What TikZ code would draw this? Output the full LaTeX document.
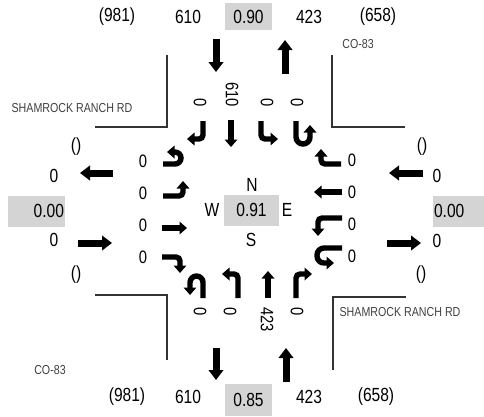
\documentclass[tikz,border=0pt]{standalone}
\usepackage{fontspec}
\setmainfont{Liberation Sans}[FakeStretch=0.82]
\usetikzlibrary{arrows.meta}
\tikzset{
  volbox/.style={fill=black!17,inner sep=0pt,minimum height=31pt},
  lanearrow/.style={line width=5.4pt,rounded corners=4pt,
    -{Triangle[length=7.5pt,width=12.5pt]}},
  bigarrow/.style={line width=7pt,-{Triangle[length=10pt,width=14.5pt]}},
  curb/.style={line width=1.6pt,draw=black!80}}

\begin{document}
\begin{tikzpicture}[x=1pt,y=-1pt,
  lbl/.style={font=\fontsize{19}{21}\selectfont,inner sep=0pt},
  lanelbl/.style={font=\fontsize{18}{20}\selectfont,inner sep=0pt},
  street/.style={font=\fontsize{13}{15}\selectfont,text=black!75,
    inner sep=0pt}]
  \useasboundingbox (0,0) rectangle (484,416);

  % approach and departure volumes
  \node[lbl] (nin) at (117,17) {(981)};
  \node[lbl] (nsb) at (188,17) {610};
  \node[lbl,volbox,minimum height=27pt,minimum width=47pt] (nphf)
    at (248.5,16.5) {0.90};
  \node[lbl] (nnb) at (309,17) {423};
  \node[lbl] (nout) at (378,17) {(658)};

  \node[lbl] (sin) at (127,397) {(981)};
  \node[lbl] (ssb) at (188,397) {610};
  \node[lbl,volbox,minimum height=32pt,minimum width=47pt] (sphf)
    at (248.5,400) {0.85};
  \node[lbl] (snb) at (309,397) {423};
  \node[lbl] (sout) at (376,397) {(658)};

  \node[lbl] (wtop) at (76,147) {()};
  \node[lbl] (wwb) at (54,176) {0};
  \node[lbl,volbox,text width=55pt,align=right,inner xsep=1pt] (wphf)
    at (36.5,211) {0.00};
  \node[lbl] (web) at (54,240) {0};
  \node[lbl] (wbot) at (76,275) {()};

  \node[lbl] (etop) at (422,147) {()};
  \node[lbl] (ewb) at (437,176) {0};
  \node[lbl,volbox,text width=49pt,align=left,inner xsep=1pt] (ephf)
    at (458.5,211) {0.00};
  \node[lbl] (eeb) at (437,241) {0};
  \node[lbl] (ebot) at (421,275) {()};

  % intersection centre
  \node[lbl] (cn) at (252,185) {N};
  \node[lbl] (cw) at (212,210) {W};
  \node[lbl,volbox,minimum width=55pt] (cphf) at (251.5,210) {0.91};
  \node[lbl] (ce) at (287,210) {E};
  \node[lbl] (cs) at (251,240) {S};

  % street names
  \node[street] (stnw) at (72,108) {SHAMROCK RANCH RD};
  \node[street] (stse) at (400,312) {SHAMROCK RANCH RD};
  \node[street] (coN) at (358,44) {CO-83};
  \node[street] (coS) at (50,370) {CO-83};

  % curbs
  \draw[curb] (167,55) -- (167,127) -- (95,127);
  \draw[curb] (332,55) -- (332,127) -- (405,127);
  \draw[curb] (95,295) -- (167,295) -- (167,360);
  \draw[curb] (406,297) -- (333,297) -- (333,370);

  % leg arrows
  \draw[bigarrow] (216,39) -- (216,72);
  \draw[bigarrow] (285,74) -- (285,40);
  \draw[bigarrow] (216,348) -- (216,380);
  \draw[bigarrow] (286,382) -- (286,348);
  \draw[bigarrow] (113,173) -- (80,173);
  \draw[bigarrow] (78,243) -- (112,243);
  \draw[bigarrow] (423,173) -- (389,173);
  \draw[bigarrow] (387,243) -- (421,243);

  % lane volumes
  \node[lanelbl,rotate=-90,anchor=east] (sbr) at (200,107) {0};
  \node[lanelbl,rotate=-90,anchor=east] (sbt) at (232,107) {610};
  \node[lanelbl,rotate=-90,anchor=east] (sbl) at (267,107) {0};
  \node[lanelbl,rotate=-90,anchor=east] (sbu) at (297,107) {0};
  \node[lanelbl,rotate=-90,anchor=west] (nbu) at (200,307) {0};
  \node[lanelbl,rotate=-90,anchor=west] (nbl) at (230,307) {0};
  \node[lanelbl,rotate=-90,anchor=west] (nbt) at (267,307) {423};
  \node[lanelbl,rotate=-90,anchor=west] (nbr) at (297,307) {0};
  \node[lanelbl] (ebu) at (143,161) {0};
  \node[lanelbl] (ebl) at (143,193) {0};
  \node[lanelbl] (ebt) at (143,225) {0};
  \node[lanelbl] (ebr) at (143,257) {0};
  \node[lanelbl] (wbr) at (352,160) {0};
  \node[lanelbl] (wbt) at (352,192) {0};
  \node[lanelbl] (wbl) at (352,224) {0};
  \node[lanelbl] (wbu) at (352,256) {0};

  % lane arrows
  \draw[lanearrow] (203,121) -- (203,139) -- (187,139);
  \draw[lanearrow] (231,120) -- (231,147);
  \draw[lanearrow] (261,121) -- (261,139) -- (278,139);
  \draw[lanearrow,rounded corners=7pt] (296,121) -- (296,144)
    -- (310,144) -- (310,125);

  \draw[lanearrow,rounded corners=6.5pt] (203,298) -- (203,276)
    -- (190,276) -- (190,295);
  \draw[lanearrow] (238,298) -- (238,274) -- (222,274);
  \draw[lanearrow] (268,298) -- (268,271);
  \draw[lanearrow] (296,298) -- (296,274) -- (312,274);

  \draw[lanearrow,rounded corners=6pt] (163,164) -- (181,164)
    -- (181,152) -- (167,152);
  \draw[lanearrow] (163,196) -- (183,196) -- (183,181);
  \draw[lanearrow] (162,228) -- (187,228);
  \draw[lanearrow] (162,257) -- (180,257) -- (180,273);

  \draw[lanearrow] (341,164) -- (321,164) -- (321,149);
  \draw[lanearrow] (342,192) -- (314,192);
  \draw[lanearrow] (342,218) -- (318,218) -- (318,236);
  \draw[lanearrow,rounded corners=7pt] (342,248) -- (317,248)
    -- (317,263) -- (334,263);
\end{tikzpicture}
\end{document}
